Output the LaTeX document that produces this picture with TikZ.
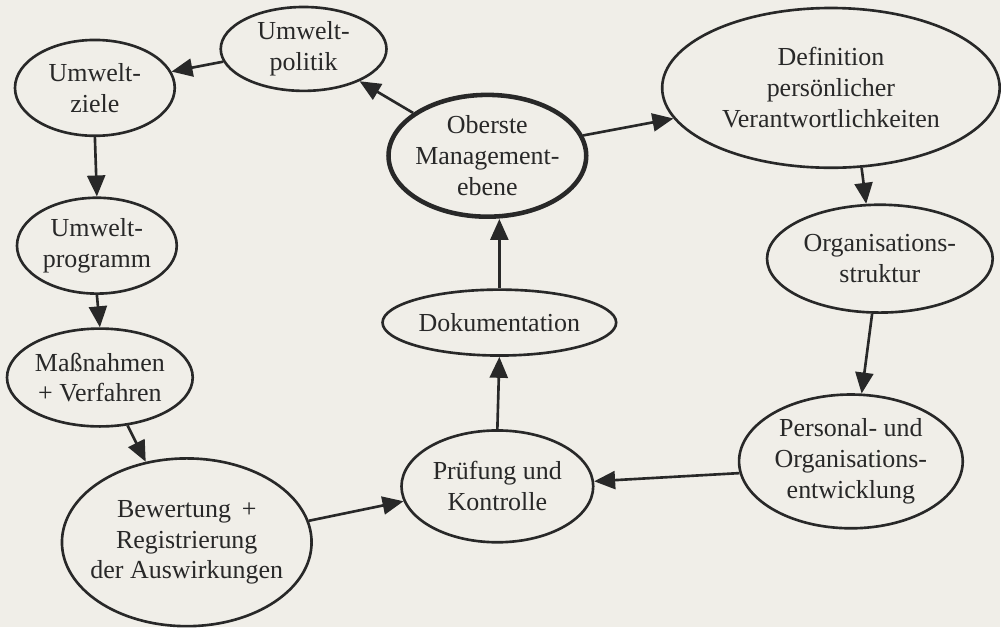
\documentclass[tikz,border=0pt]{standalone}
\usepackage{fontspec}
\setmainfont{Liberation Serif}
\usetikzlibrary{shapes.geometric,arrows.meta}

\definecolor{paperColor}{RGB}{240,238,232}
\definecolor{inkColor}{RGB}{40,40,40}

\begin{document}
\begin{tikzpicture}[x=0.02cm, y=-0.02cm,
	bubble/.style = {ellipse, draw = inkColor, line width = 1.5pt, inner sep = -1cm,
		align = center, text = inkColor, font = \fontsize{14.8}{17.6}\selectfont},
	flow/.style = {draw = inkColor, line width = 1.5pt,
		-{Triangle[length = 0.42cm, width = 0.36cm]}}
]

	% paper background, fixes the size of the page
	\fill[paperColor] (0, 0) rectangle (1001, 628);

	% left column
	\node[bubble, minimum width = 3.32cm, minimum height = 1.68cm] (politik) at (304, 49) {Umwelt-\\politik};
	\node[bubble, minimum width = 3.2cm, minimum height = 1.92cm] (ziele) at (95, 88) {Umwelt-\\ziele};
	\node[bubble, minimum width = 3.2cm, minimum height = 1.92cm] (programm) at (97, 246) {Umwelt-\\programm};
	\node[bubble, minimum width = 3.72cm, minimum height = 1.96cm] (massnahmen) at (100, 378) {Maßnahmen\\+ Verfahren};
	\node[bubble, minimum width = 5.0cm, minimum height = 3.36cm] (bewertung) at (187, 543) {Bewertung \,+\\Registrierung\\der Auswirkungen};

	% middle column
	\node[bubble, line width = 2.6pt, minimum width = 3.96cm, minimum height = 2.44cm] (oberste) at (488, 156) {Oberste\\Management-\\ebene};
	\node[bubble, minimum width = 4.68cm, minimum height = 1.32cm] (doku) at (500, 323) {Dokumentation};
	\node[bubble, minimum width = 3.84cm, minimum height = 2.24cm] (pruefung) at (498, 487) {Prüfung und\\Kontrolle};

	% right column
	\node[bubble, minimum width = 6.76cm, minimum height = 3.2cm] (definition) at (832, 88) {Definition\\persönlicher\\Verantwortlichkeiten};
	\node[bubble, minimum width = 4.52cm, minimum height = 2.16cm] (struktur) at (881, 259) {Organisations-\\struktur};
	\node[bubble, minimum width = 4.48cm, minimum height = 2.68cm] (personal) at (852, 462) {Personal- und\\Organisations-\\entwicklung};

	% connectors
	\draw[flow] (oberste.150) -- (politik.-30);
	\draw[flow] (politik.189) -- (ziele.12);
	\draw[flow] (ziele.south) -- (programm.north);
	\draw[flow] (programm.south) -- (massnahmen.north);
	\draw[flow] (massnahmen.-60) -- (bewertung.117);
	\draw[flow] (bewertung.10) -- (pruefung.189);
	\draw[flow] (personal.186) -- (pruefung.3);
	\draw[flow] (pruefung.north) -- (doku.south);
	\draw[flow] (doku.north) -- (doku.north |- oberste.south);
	\draw[flow] (oberste.12) -- (definition.191);
	\draw[flow] (definition.-69) -- (struktur.104);
	\draw[flow] (struktur.-98) -- (personal.81);

\end{tikzpicture}
\end{document}
